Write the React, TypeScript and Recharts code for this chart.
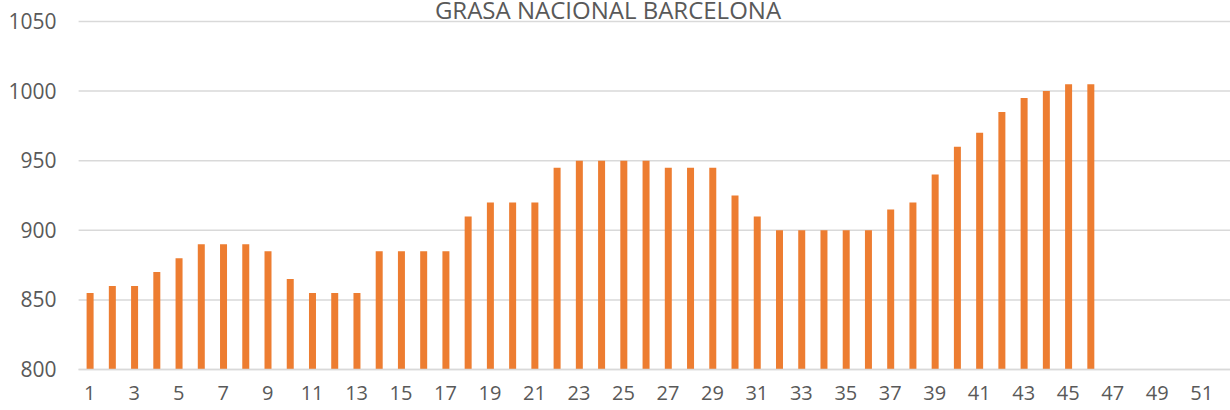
import React from 'react';
import { BarChart, Bar, XAxis, YAxis, CartesianGrid } from 'recharts';

const title = 'GRASA NACIONAL BARCELONA';

const weeks: number[] = Array.from({ length: 52 }, (_, i) => i + 1);

const prices: (number | null)[] = [
  855, 860, 860, 870, 880, 890, 890, 890, 885, 865,
  855, 855, 855, 885, 885, 885, 885, 910, 920, 920,
  920, 945, 950, 950, 950, 950, 945, 945, 945, 925,
  910, 900, 900, 900, 900, 900, 915, 920, 940, 960,
  970, 985, 995, 1000, 1005, 1005,
];

const yTicks = [800, 850, 900, 950, 1000, 1050];

const data = weeks.map((w, i) => ({ week: String(w), price: prices[i] ?? null }));

const textColor = '#595959';
const gridColor = '#d9d9d9';
const fontFamily = '"Open Sans", sans-serif';

const App: React.FC = () => {
  return (
    <div style={{ position: 'fixed', left: 0, top: 0, width: 1230, height: 410, overflow: 'hidden', background: '#fff' }}>
      <BarChart
        width={1236}
        height={410}
        data={data}
        margin={{ top: 21.5, right: 1, bottom: 0, left: 0 }}
        style={{ fontFamily }}
      >
        <CartesianGrid vertical={false} stroke={gridColor} strokeWidth={1.5} />
        <XAxis
          dataKey="week"
          interval={1}
          tickLine={false}
          tickSize={0}
          tickMargin={16}
          axisLine={{ stroke: gridColor, strokeWidth: 1.5 }}
          tick={{ fill: textColor, fontSize: 20 }}
          height={40.5}
        />
        <YAxis
          domain={[800, 1050]}
          ticks={yTicks}
          allowDataOverflow
          tickLine={false}
          axisLine={false}
          tickSize={0}
          tickMargin={22}
          width={78.6}
          tick={{ fill: textColor, fontSize: 21 }}
        />
        <Bar dataKey="price" fill="#ed7d31" barSize={7} isAnimationActive={false} />
      </BarChart>
      <svg width={1230} height={40} style={{ position: 'absolute', left: 0, top: 0, pointerEvents: 'none' }}>
        <text x={608} y={19} textAnchor="middle" fill={textColor} fontSize={24} fontFamily={fontFamily}>
          {title}
        </text>
      </svg>
    </div>
  );
};

export default App;
